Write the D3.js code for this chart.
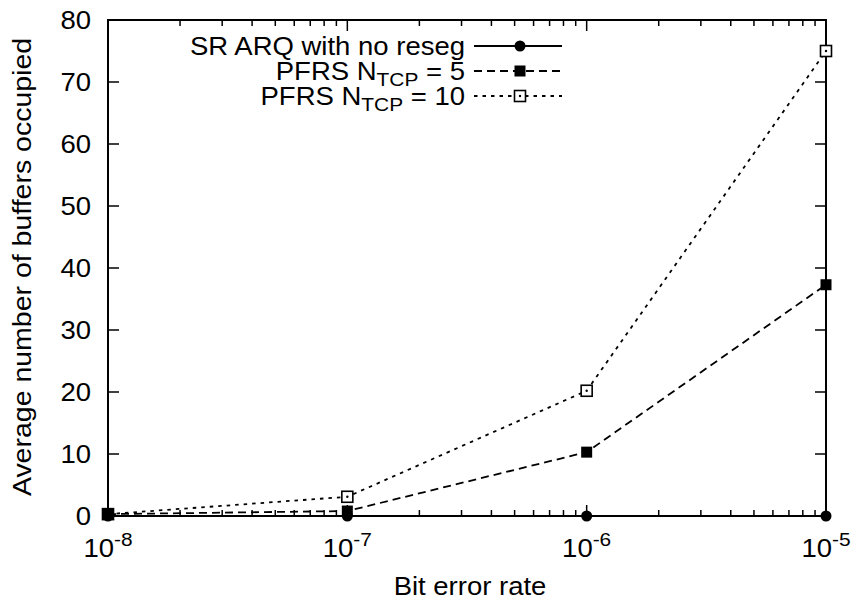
<!DOCTYPE html>
<html>
<head>
<meta charset="utf-8">
<script src="https://cdn.jsdelivr.net/npm/d3@7"></script>
<style>
  body { margin: 0; background: #fff; }
  svg { display: block; }
  text { font-family: "Liberation Sans", Arial, sans-serif; fill: #000; }
</style>
</head>
<body>
<svg id="chart" width="854" height="604"></svg>
<script>
// Bit error rates (x) and average number of buffers occupied (y)
const berExponents = [-8, -7, -6, -5];
const srArq = [0, 0, 0, 0];
const pfrs5 = [0.3, 0.8, 10.3, 37.3];
const pfrs10 = [0.3, 3.1, 20.2, 75];
const yTicks = [0, 10, 20, 30, 40, 50, 60, 70, 80];
const seriesNames = ["SR ARQ with no reseg", "PFRS N", "PFRS N"];

const svg = d3.select("#chart");
const L = 108, R = 826, T = 20, B = 516;
const x = d3.scaleLog().domain([1e-8, 1e-5]).range([L, R]);
const y = d3.scaleLinear().domain([0, 80]).range([B, T]);

const fs = 25, fsSmall = 19;
const sx = 1.1; // slightly wide lettering

// Ticks along all four sides, pointing inward
const minorX = [];
for (let e = -8; e < -5; e++) for (let m = 2; m <= 9; m++) minorX.push(m * Math.pow(10, e));
const majorX = berExponents.map(e => Math.pow(10, e));

const tickG = svg.append("g").attr("stroke", "#000").attr("stroke-width", 1.5);
majorX.forEach(v => {
  tickG.append("line").attr("x1", x(v)).attr("x2", x(v)).attr("y1", B).attr("y2", B - 11);
  tickG.append("line").attr("x1", x(v)).attr("x2", x(v)).attr("y1", T).attr("y2", T + 11);
});
minorX.forEach(v => {
  tickG.append("line").attr("x1", x(v)).attr("x2", x(v)).attr("y1", B).attr("y2", B - 6);
  tickG.append("line").attr("x1", x(v)).attr("x2", x(v)).attr("y1", T).attr("y2", T + 6);
});
yTicks.forEach(v => {
  tickG.append("line").attr("x1", L).attr("x2", L + 11).attr("y1", y(v)).attr("y2", y(v));
  tickG.append("line").attr("x1", R).attr("x2", R - 11).attr("y1", y(v)).attr("y2", y(v));
});

// Frame
svg.append("rect").attr("x", L).attr("y", T).attr("width", R - L).attr("height", B - T)
  .attr("fill", "none").attr("stroke", "#000").attr("stroke-width", 2);

// Y tick labels
svg.append("g").selectAll("text").data(yTicks).join("text")
  .attr("transform", d => `translate(${L - 17},${y(d)}) scale(${sx},1)`)
  .attr("dy", "0.36em")
  .attr("text-anchor", "end").attr("font-size", fs).text(d => d);

// X tick labels: 10 with superscript exponent
const xl = svg.append("g").selectAll("text").data(berExponents).join("text")
  .attr("transform", d => `translate(${x(Math.pow(10, d))},557) scale(${sx},1)`)
  .attr("text-anchor", "middle").attr("font-size", fs);
xl.append("tspan").text("10");
xl.append("tspan").attr("dy", -11).attr("font-size", fsSmall).text(d => d);

// Axis titles
svg.append("text").attr("transform", `translate(470,595) scale(${sx},1)`)
  .attr("text-anchor", "middle").attr("font-size", fs).text("Bit error rate");
svg.append("text").attr("transform", "translate(31,267) rotate(-90) scale(1.14,1)")
  .attr("text-anchor", "middle").attr("font-size", fs).text("Average number of buffers occupied");

// Series
const series = [
  { values: srArq, dash: null, marker: "circle" },
  { values: pfrs5, dash: "8,5", marker: "filled" },
  { values: pfrs10, dash: "3.5,5", marker: "open" }
];
const line = d3.line().x((d, i) => x(Math.pow(10, berExponents[i]))).y(d => y(d));

function drawMarker(g, cx, cy, kind) {
  if (kind === "circle") {
    g.append("circle").attr("cx", cx).attr("cy", cy).attr("r", 5.5).attr("fill", "#000");
  } else if (kind === "filled") {
    g.append("rect").attr("x", cx - 5.5).attr("y", cy - 5.5).attr("width", 11).attr("height", 11).attr("fill", "#000");
  } else {
    g.append("rect").attr("x", cx - 5.5).attr("y", cy - 5.5).attr("width", 11).attr("height", 11)
      .attr("fill", "#fff").attr("stroke", "#000").attr("stroke-width", 1.6);
    g.append("circle").attr("cx", cx).attr("cy", cy).attr("r", 1.2).attr("fill", "#000");
  }
}

// Draw back-to-front so the solid line sits on top
[2, 1, 0].forEach(k => {
  const s = series[k];
  const g = svg.append("g");
  g.append("path").datum(s.values).attr("d", line).attr("fill", "none")
    .attr("stroke", "#000").attr("stroke-width", 1.8)
    .attr("stroke-dasharray", s.dash);
  s.values.forEach((v, i) => drawMarker(g, x(Math.pow(10, berExponents[i])), y(v), s.marker));
});

// Legend
const legY = [46, 71, 96];
const lg = svg.append("g");
series.forEach((s, k) => {
  const t = lg.append("text").attr("transform", `translate(465,${legY[k]}) scale(${sx},1)`)
    .attr("dy", "0.36em")
    .attr("text-anchor", "end").attr("font-size", fs);
  t.append("tspan").text(seriesNames[k]);
  if (k > 0) {
    t.append("tspan").attr("dy", 6).attr("font-size", fsSmall).text("TCP");
    t.append("tspan").attr("dy", -6).text(k === 1 ? " = 5" : " = 10");
  }
  lg.append("line").attr("x1", 474).attr("x2", 562).attr("y1", legY[k]).attr("y2", legY[k])
    .attr("stroke", "#000").attr("stroke-width", 1.8).attr("stroke-dasharray", s.dash);
  drawMarker(lg, 520, legY[k], s.marker);
});
</script>
</body>
</html>
